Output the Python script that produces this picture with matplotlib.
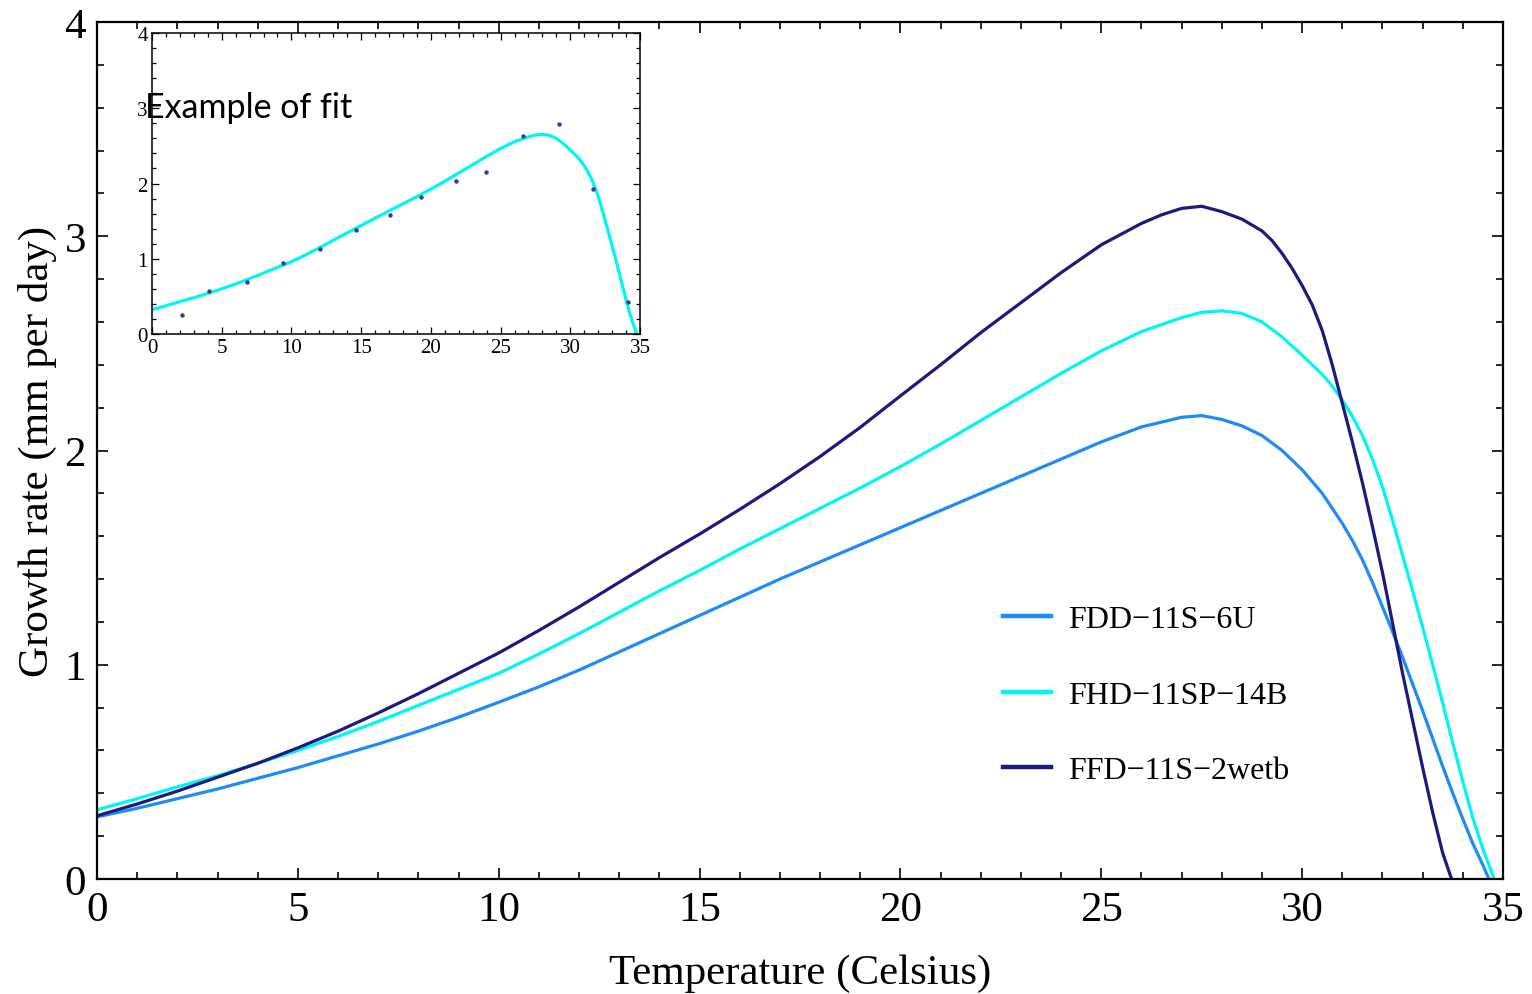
import matplotlib
matplotlib.use("Agg")
import matplotlib.pyplot as plt
from matplotlib.ticker import MultipleLocator

# ---------------- data ----------------
x_navy = [0, 1, 2, 3, 4, 5, 6, 7, 8, 9, 10, 11, 12, 13, 14, 15, 16, 17, 18, 19, 20, 21, 22,
          23, 24, 25, 26, 26.5, 27, 27.5, 28, 28.5, 29, 29.25, 29.5, 29.75, 30, 30.25, 30.5,
          30.75, 31, 31.25, 31.5, 31.75, 32, 32.25, 32.5, 32.75, 33, 33.25, 33.5, 33.72]
y_navy = [0.295, 0.35, 0.41, 0.475, 0.54, 0.612, 0.69, 0.775, 0.865, 0.96, 1.055, 1.16, 1.27,
          1.385, 1.50, 1.61, 1.725, 1.845, 1.972, 2.108, 2.255, 2.40, 2.55, 2.69, 2.83, 2.96,
          3.06, 3.10, 3.13, 3.14, 3.115, 3.08, 3.025, 2.98, 2.92, 2.85, 2.77, 2.68, 2.56,
          2.40, 2.22, 2.04, 1.85, 1.645, 1.43, 1.195, 0.96, 0.74, 0.52, 0.31, 0.12, 0.0]

x_cyan = [0, 1, 2, 3, 4, 5, 6, 7, 8, 9, 10, 11, 12, 13, 14, 15, 16, 17, 18, 19, 20, 21, 22,
          23, 24, 25, 26, 27, 27.5, 28, 28.5, 29, 29.5, 30, 30.5, 30.75, 31, 31.25, 31.5,
          31.75, 32, 32.25, 32.5, 32.75, 33, 33.25, 33.5, 33.75, 34, 34.25, 34.5, 34.78]
y_cyan = [0.323, 0.375, 0.43, 0.482, 0.54, 0.60, 0.665, 0.735, 0.81, 0.885, 0.96, 1.05, 1.145,
          1.245, 1.345, 1.44, 1.54, 1.635, 1.73, 1.825, 1.925, 2.03, 2.14, 2.25, 2.36, 2.465,
          2.555, 2.62, 2.645, 2.652, 2.64, 2.60, 2.53, 2.445, 2.355, 2.30, 2.235, 2.16, 2.07,
          1.96, 1.83, 1.675, 1.51, 1.345, 1.175, 1.0, 0.82, 0.635, 0.455, 0.285, 0.14, 0.0]

x_blue = [0, 1, 2, 3, 4, 5, 6, 7, 8, 9, 10, 11, 12, 13, 14, 15, 16, 17, 18, 19, 20, 21, 22,
          23, 24, 25, 26, 27, 27.5, 28, 28.5, 29, 29.5, 30, 30.5, 31, 31.25, 31.5, 31.75,
          32, 32.25, 32.5, 32.75, 33, 33.25, 33.5, 33.75, 34, 34.25, 34.5, 34.65]
y_blue = [0.29, 0.33, 0.375, 0.42, 0.47, 0.52, 0.575, 0.63, 0.69, 0.755, 0.825, 0.897, 0.975,
          1.06, 1.145, 1.23, 1.315, 1.40, 1.48, 1.56, 1.64, 1.72, 1.80, 1.88, 1.96, 2.04,
          2.11, 2.155, 2.163, 2.145, 2.115, 2.07, 2.0, 1.91, 1.80, 1.66, 1.58, 1.49, 1.385,
          1.27, 1.155, 1.035, 0.91, 0.785, 0.655, 0.525, 0.40, 0.28, 0.165, 0.065, 0.0]

labels = ["FDD\u221211S\u22126U", "FHD\u221211SP\u221214B", "FFD\u221211S\u22122wetb"]
colors = ["#1E8CF5", "#00F5F5", "#1C1A7C"]

# inset: observed points and the fitted curve (same as FHD-11SP-14B)
inset_pts_x = [2.16, 4.08, 6.83, 9.42, 12.04, 14.62, 17.09, 19.32, 21.77, 23.93,
               26.61, 29.20, 31.65, 34.12]
inset_pts_y = [0.258, 0.569, 0.693, 0.942, 1.133, 1.382, 1.587, 1.818, 2.027, 2.151,
               2.631, 2.796, 1.924, 0.422]

serif = "Liberation Serif"

fig = plt.figure(figsize=(15.32, 9.95), dpi=100)
ax = fig.add_axes([97 / 1532, 1 - 880 / 995, (1503 - 97) / 1532, (880 - 23) / 995])

ax.plot(x_blue, y_blue, color=colors[0], lw=2.3, label=labels[0])
ax.plot(x_cyan, y_cyan, color=colors[1], lw=2.3, label=labels[1])
ax.plot(x_navy, y_navy, color=colors[2], lw=2.3, label=labels[2])

ax.set_xlim(0, 35)
ax.set_ylim(0, 4)
ax.xaxis.set_major_locator(MultipleLocator(5))
ax.xaxis.set_minor_locator(MultipleLocator(1))
ax.yaxis.set_major_locator(MultipleLocator(1))
ax.yaxis.set_minor_locator(MultipleLocator(0.2))
ax.tick_params(which="both", direction="in", top=True, right=True, width=1.2)
ax.tick_params(which="major", length=8, labelsize=31, pad=8)
ax.tick_params(which="minor", length=5)
for lab in ax.get_xticklabels() + ax.get_yticklabels():
    lab.set_family(serif)
for sp in ax.spines.values():
    sp.set_linewidth(1.6)

ax.set_xlabel("Temperature (Celsius)", family=serif, fontsize=31, labelpad=18)
ax.set_ylabel("Growth rate (mm per day)", family=serif, fontsize=31, labelpad=5)

leg = ax.legend(loc="center left", bbox_to_anchor=(1003 / 1532, 1 - 696 / 995),
                bbox_transform=fig.transFigure, frameon=False, borderpad=0,
                borderaxespad=0, handlelength=1.5, handletextpad=0.55,
                labelspacing=1.45, prop={"family": serif, "size": 23})
for line in leg.get_lines():
    line.set_linewidth(3.2)

# inset
axi = fig.add_axes([152 / 1532, 1 - 335 / 995, (640 - 152) / 1532, (335 - 34) / 995])
axi.plot(x_cyan, y_cyan, color=colors[1], lw=2.3)
axi.plot(inset_pts_x, inset_pts_y, "o", color="#3A3A9A", ms=3.2, mec="none")
axi.set_xlim(0, 35)
axi.set_ylim(0, 4)
axi.xaxis.set_major_locator(MultipleLocator(5))
axi.xaxis.set_minor_locator(MultipleLocator(1))
axi.yaxis.set_major_locator(MultipleLocator(1))
axi.yaxis.set_minor_locator(MultipleLocator(0.2))
axi.tick_params(which="both", direction="in", top=True, right=True, width=0.9)
axi.tick_params(which="major", length=5, labelsize=15, pad=3)
axi.tick_params(which="minor", length=3)
for lab in axi.get_xticklabels() + axi.get_yticklabels():
    lab.set_family(serif)
for sp in axi.spines.values():
    sp.set_linewidth(1.1)

fig.text(145 / 1532, 1 - 108 / 995, "Example of fit", family="Lato", fontsize=24.5,
         va="center", ha="left")

fig.savefig("out.png", dpi=100)
